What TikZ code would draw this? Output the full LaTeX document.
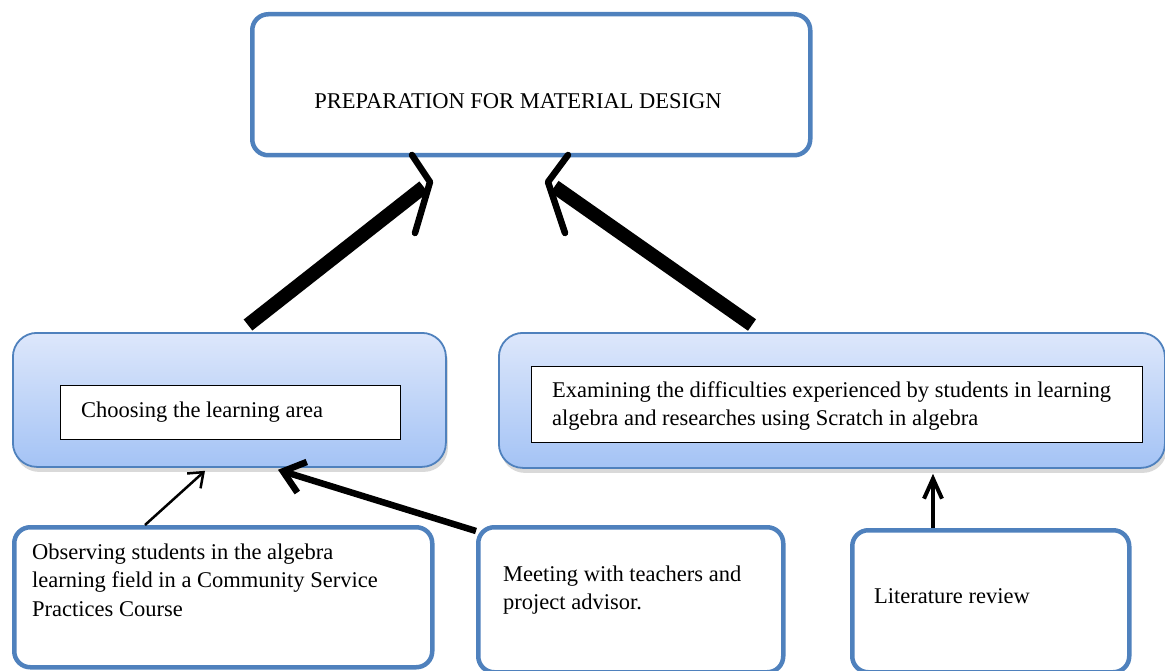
\documentclass[tikz,border=0pt]{standalone}
\usepackage{fontspec}
\setmainfont{Liberation Serif}
\usetikzlibrary{arrows.meta,shadows,calc}

\definecolor{boxblue}{HTML}{4F81BD}
\definecolor{gradtop}{HTML}{DDE7FB}
\definecolor{gradbot}{HTML}{A4C3F5}

\tikzset{
	stagebox/.style = {draw=boxblue, line width=4.5pt, rounded corners=16pt, fill=white, anchor=north west, inner sep=0pt},
	areabox/.style = {draw=boxblue, line width=1.8pt, rounded corners=24pt, top color=gradtop, bottom color=gradbot, anchor=north west, inner sep=0pt,
		drop shadow={shadow xshift=2pt, shadow yshift=-5pt, opacity=0.3}},
	innerbox/.style = {draw=black, line width=1.2pt, fill=white, anchor=north west, inner sep=0pt},
	txt/.style = {font=\fontsize{22.5}{28.5}\selectfont, align=left, anchor=base west, inner sep=0pt},
	bigshaft/.style = {line width=14pt},
	barb/.style = {line width=6.5pt, line cap=round, line join=round},
	feed/.style = {-{Straight Barb[length=13pt, width=20pt, line width=2.5pt]}, line width=2.5pt},
}

\begin{document}
\begin{tikzpicture}[x=1pt, y=-1pt]
	\useasboundingbox (0,0) rectangle (1165,671);
	% top
	\node[stagebox, minimum width=558pt, minimum height=141pt] (prep) at (250,12) {};
	\node[txt, anchor=base] (prept) at (518,109) {PREPARATION FOR MATERIAL DESIGN};
	% second row (base of multi-line text = last line)
	\node[areabox, minimum width=433pt, minimum height=134pt] (choose) at (12,332) {};
	\node[innerbox, minimum width=340pt, minimum height=54pt] (choosein) at (60,385) {};
	\node[txt] (chooset) at (81,417) {Choosing the learning area};
	\node[areabox, minimum width=666pt, minimum height=135pt] (exam) at (498,332) {};
	\node[innerbox, minimum width=611pt, minimum height=76pt] (examin) at (531,366) {};
	\node[txt] (examt) at (552,425.5) {Examining the difficulties experienced by students in learning\\algebra and researches using Scratch in algebra};
	% bottom row
	\node[stagebox, minimum width=418pt, minimum height=140pt] (obs) at (12,525) {};
	\node[txt] (obst) at (32,616) {Observing students in the algebra\\learning field in a Community Service\\Practices Course};
	\node[stagebox, minimum width=305pt, minimum height=145pt] (meet) at (476,525) {};
	\node[txt] (meett) at (503,609.5) {Meeting with teachers and\\project advisor.};
	\node[stagebox, minimum width=277pt, minimum height=142pt] (lit) at (850,528) {};
	\node[txt] (litt) at (874,603) {Literature review};
	% big arrows
	\coordinate (ltail) at (248,325);
	\coordinate (ltip) at (430,182);
	\coordinate (rtail) at (752,325);
	\coordinate (rtip) at (548,182);
	\draw[bigshaft, shorten >=8pt] (ltail) -- (ltip);
	\draw[barb] ($(ltip)+(-18,-27)$) -- (ltip) -- ($(ltip)+(-15,51)$);
	\draw[bigshaft, shorten >=8pt] (rtail) -- (rtip);
	\draw[barb] ($(rtip)+(20,-27)$) -- (rtip) -- ($(rtip)+(17,51)$);
	% small arrows
	\draw[feed] ([xshift=133pt]obs.north west) -- ([xshift=193pt, yshift=-3pt]choose.south west);
	\draw[-{Straight Barb[length=20pt, width=32pt, line width=6.5pt]}, line width=6.5pt] ([yshift=-6pt]meet.north west) -- ([xshift=266pt, yshift=-2pt]choose.south west);
	\draw[-{Straight Barb[length=20pt, width=18pt, line width=4pt]}, line width=4pt] ([xshift=83pt]lit.north west) -- ([xshift=435pt, yshift=-5pt]exam.south west);
\end{tikzpicture}
\end{document}
